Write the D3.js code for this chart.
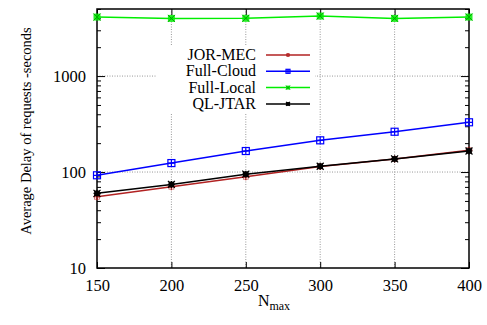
<!DOCTYPE html>
<html><head><meta charset="utf-8">
<script src="https://cdn.jsdelivr.net/npm/d3@7"></script>
<style>body{margin:0;background:#fff}svg{display:block}text{font-family:"Liberation Serif","Times New Roman",serif}</style>
</head><body>
<svg id="c" width="487" height="325"></svg>
<script>
const nmax = [150, 200, 250, 300, 350, 400];
const jorMec = [55.3, 70.3, 89.3, 114.5, 136.5, 169];
const fullCloud = [92.5, 124, 165.6, 214, 263, 330];
const fullLocal = [4120, 3990, 4000, 4220, 3990, 4120];
const qlJtar = [60, 74.3, 95, 115, 137, 165.6];
const xTicks = [150, 200, 250, 300, 350, 400];
const yTicks = [10, 100, 1000];
const seriesNames = ["JOR-MEC", "Full-Cloud", "Full-Local", "QL-JTAR"];
const seriesColors = ["#b22222", "#0000ff", "#00ee00", "#000000"];
const seriesData = [jorMec, fullCloud, fullLocal, qlJtar];

const svg = d3.select("#c");
const L = 97, R = 469, T = 9, B = 268;
const x = d3.scaleLinear().domain([150, 400]).range([L, R]);
const y = d3.scaleLog().domain([10, 5000]).range([B, T]);

// grid
const g = svg.append("g");
xTicks.slice(1, -1).forEach(v => {
  g.append("line").attr("x1", x(v)).attr("x2", x(v)).attr("y1", T).attr("y2", B)
    .attr("stroke", "#999").attr("stroke-width", 1).attr("stroke-dasharray", "1,1.5");
});
yTicks.slice(1).forEach(v => {
  g.append("line").attr("x1", L).attr("x2", R).attr("y1", y(v)).attr("y2", y(v))
    .attr("stroke", "#999").attr("stroke-width", 1).attr("stroke-dasharray", "1,1.5");
});

// legend background
svg.append("rect").attr("x", 157).attr("y", 45).attr("width", 158).attr("height", 68).attr("fill", "#fff");

// axes
const minor = [];
for (let d = 10; d < 5000; d *= 10) for (let k = 1; k < 10; k++) { const v = d * k; if (v <= 5000) minor.push(v); }
const axL = d3.axisLeft(y).tickValues(minor).tickSize(-4).tickFormat(d => yTicks.includes(d) ? d : "");
const axR = d3.axisRight(y).tickValues(minor).tickSize(-4).tickFormat("");
const axB = d3.axisBottom(x).tickValues(xTicks).tickSize(-6).tickPadding(11).tickFormat(d3.format("d"));
const axT = d3.axisTop(x).tickValues(xTicks).tickSize(-6).tickFormat("");
function style(sel) {
  sel.select(".domain").remove();
  sel.selectAll("text").attr("font-size", 16.5).attr("fill", "#000").style("font-family", '"Liberation Serif",serif');
  sel.selectAll("line").attr("stroke", "#000");
}
const gl = svg.append("g").attr("transform", `translate(${L},0)`).call(axL); style(gl);
gl.selectAll(".tick").filter(d => yTicks.includes(d)).select("line").attr("x2", 8);
gl.selectAll("text").attr("x", -11);
const gr = svg.append("g").attr("transform", `translate(${R},0)`).call(axR); style(gr);
gr.selectAll(".tick").filter(d => yTicks.includes(d)).select("line").attr("x2", -8);
const gb = svg.append("g").attr("transform", `translate(0,${B})`).call(axB); style(gb);
const gt = svg.append("g").attr("transform", `translate(0,${T})`).call(axT); style(gt);
svg.append("rect").attr("x", L).attr("y", T).attr("width", R - L).attr("height", B - T)
  .attr("fill", "none").attr("stroke", "#000").attr("stroke-width", 1.5);

// marker drawing
function marker(sel, i, cx, cy, s) {
  const c = seriesColors[i];
  const gg = sel.append("g").attr("transform", `translate(${cx},${cy})`);
  if (i === 0) {
    gg.append("path").attr("d", `M${-s},0H${s}M0,${-s}V${s}`).attr("stroke", c).attr("stroke-width", 1.2);
    gg.append("rect").attr("x", -s*0.7).attr("y", -s*0.7).attr("width", s*1.4).attr("height", s*1.4).attr("fill", "none").attr("stroke", c).attr("stroke-width", 0.8).attr("opacity", 0.7);
  } else if (i === 1) {
    gg.append("rect").attr("x", -s).attr("y", -s).attr("width", 2*s).attr("height", 2*s).attr("fill", "none").attr("stroke", c).attr("stroke-width", 1.2);
    gg.append("path").attr("d", `M${-s},0H${s}M0,${-s}V${s}`).attr("stroke", c).attr("stroke-width", 1.2);
  } else if (i === 2) {
    gg.append("rect").attr("x", -s).attr("y", -s).attr("width", 2*s).attr("height", 2*s).attr("fill", c).attr("opacity", 0.85);
    gg.append("path").attr("d", `M${-s},${-s}L${s},${s}M${-s},${s}L${s},${-s}`).attr("stroke", "#0a0").attr("stroke-width", 1);
  } else {
    gg.append("rect").attr("x", -s*0.8).attr("y", -s*0.8).attr("width", 1.6*s).attr("height", 1.6*s).attr("fill", c);
    gg.append("path").attr("d", `M${-s},${-s}L${s},${s}M${-s},${s}L${s},${-s}M${-s},0H${s}M0,${-s}V${s}`).attr("stroke", c).attr("stroke-width", 1.2);
  }
}

const line = d3.line().x((d, j) => x(nmax[j])).y(d => y(d));
seriesData.forEach((data, i) => {
  svg.append("path").datum(data).attr("d", line).attr("fill", "none").attr("stroke", seriesColors[i]).attr("stroke-width", 1.5);
  data.forEach((v, j) => marker(svg, i, x(nmax[j]), y(v), 3.5));
});

// legend
const leg = svg.append("g");
seriesNames.forEach((n, i) => {
  const ly = 55 + i * 16.3;
  leg.append("text").attr("x", 256).attr("y", ly + 5).attr("text-anchor", "end").attr("font-size", 16).text(n);
  leg.append("line").attr("x1", 266).attr("x2", 310).attr("y1", ly).attr("y2", ly).attr("stroke", seriesColors[i]).attr("stroke-width", 1.5);
  marker(leg, i, 288, ly, 2);
});

// axis labels
svg.append("text").attr("transform", "translate(31,131) rotate(-90)").attr("text-anchor", "middle")
  .attr("font-size", 14.5).text("Average Delay of requests -seconds");
const xl = svg.append("text").attr("x", 274).attr("y", 306).attr("text-anchor", "middle").attr("font-size", 16);
xl.append("tspan").text("N");
xl.append("tspan").attr("font-size", 12).attr("dy", 4).text("max");
</script>
</body></html>
